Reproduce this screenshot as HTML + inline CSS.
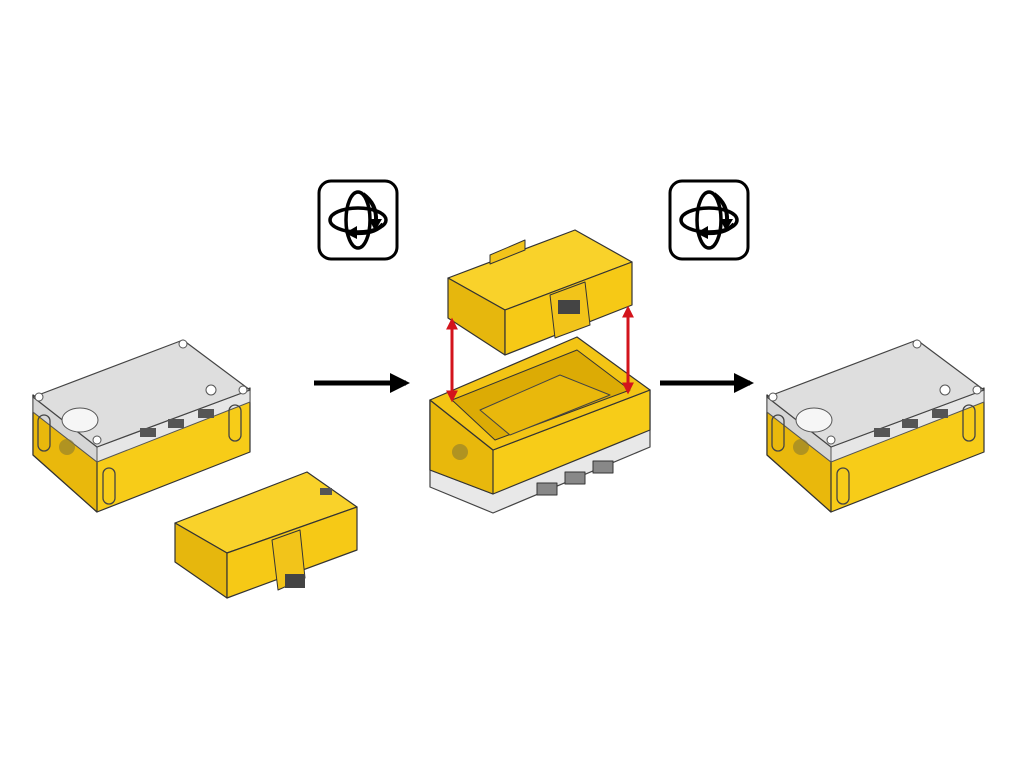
<!DOCTYPE html>
<html><head><meta charset="utf-8"><style>html,body{margin:0;padding:0;background:#fff}svg{display:block}</style></head><body>
<svg width="1024" height="768" viewBox="0 0 1024 768" xmlns="http://www.w3.org/2000/svg" stroke-linejoin="round">
<defs>
<marker id="ab" viewBox="0 0 10 10" refX="8" refY="5" markerWidth="4" markerHeight="4" orient="auto"><path d="M0,0L10,5L0,10z" fill="#000"/></marker>
<marker id="ar" viewBox="0 0 10 10" refX="8" refY="5" markerWidth="4" markerHeight="5" orient="auto-start-reverse"><path d="M0,0L10,5L0,10z" fill="#d3141c"/></marker>
<g id="rot">
<rect x="2" y="2" width="78" height="78" rx="12" fill="#fff" stroke="#000" stroke-width="3"/>
<ellipse cx="41" cy="41" rx="12" ry="28" fill="none" stroke="#000" stroke-width="3.5"/>
<ellipse cx="41" cy="41" rx="28" ry="12" fill="none" stroke="#000" stroke-width="3.5"/>
<path d="M46,15 Q60,25 59,42" fill="none" stroke="#000" stroke-width="4"/>
<path d="M52,40L65,40L58,52z" fill="#000"/>
<path d="M66,45 Q58,55 38,54" fill="none" stroke="#000" stroke-width="4"/>
<path d="M40,47L28,54L40,60z" fill="#000"/>
</g>
<g id="hub">
<!-- yellow body -->
<polygon points="0,55 64,105 217,48 217,112 64,172 0,115" fill="#f7cc18" stroke="#333" stroke-width="1.2"/>
<polygon points="0,55 64,105 64,172 0,115" fill="#e9b80c" stroke="#333" stroke-width="1.2"/>
<!-- white band -->
<polygon points="0,57 64,107 217,50 217,62 64,122 0,72" fill="#e6e6e6" stroke="#555" stroke-width="1"/>
<polygon points="0,57 64,107 64,122 0,72" fill="#d6d6d6" stroke="#555" stroke-width="1"/>
<!-- top -->
<polygon points="0,57 150,0 217,50 64,107" fill="#dedede" stroke="#444" stroke-width="1.2"/>
<ellipse cx="47" cy="80" rx="18" ry="12" fill="#f6f6f6" stroke="#555"/>
<circle cx="150" cy="4" r="4" fill="#fff" stroke="#555"/>
<circle cx="6" cy="57" r="4" fill="#fff" stroke="#555"/>
<circle cx="210" cy="50" r="4" fill="#fff" stroke="#555"/>
<circle cx="64" cy="100" r="4" fill="#fff" stroke="#555"/>
<rect x="107" y="88" width="16" height="9" fill="#555"/>
<rect x="135" y="79" width="16" height="9" fill="#555"/>
<rect x="165" y="69" width="16" height="9" fill="#555"/>
<circle cx="178" cy="50" r="5" fill="#fff" stroke="#555"/>
<!-- beams -->
<g fill="none" stroke="#444" stroke-width="1.3">
<rect x="5" y="75" width="12" height="36" rx="6"/>
<rect x="70" y="128" width="12" height="36" rx="6"/>
<rect x="196" y="65" width="12" height="36" rx="6"/>
</g>
<circle cx="34" cy="107" r="8" fill="#8a7a30" opacity=".6"/>
</g>
</defs>

<use href="#rot" x="317" y="179"/>
<use href="#rot" x="668" y="179"/>

<line x1="314" y1="383" x2="406" y2="383" stroke="#000" stroke-width="5" marker-end="url(#ab)"/>
<line x1="660" y1="383" x2="750" y2="383" stroke="#000" stroke-width="5" marker-end="url(#ab)"/>

<use href="#hub" x="33" y="340"/>
<use href="#hub" x="767" y="340"/>
<!-- right hub has slot on front: fine -->

<!-- left battery -->
<polygon points="175,523 307,472 357,507 227,553" fill="#f9d22a" stroke="#333" stroke-width="1.2"/>
<polygon points="175,523 227,553 227,598 175,562" fill="#e6b70d" stroke="#333" stroke-width="1.2"/>
<polygon points="227,553 357,507 357,550 227,598" fill="#f6c916" stroke="#333" stroke-width="1.2"/>
<polygon points="272,540 300,530 305,578 278,590" fill="#f2c41a" stroke="#333"/>
<rect x="285" y="574" width="20" height="14" fill="#444"/>
<rect x="320" y="488" width="12" height="7" fill="#555"/>

<!-- middle hub (open) -->
<polygon points="430,400 493,450 650,390 650,447 493,513 430,487" fill="#e8e8e8" stroke="#444" stroke-width="1.2"/>
<polygon points="430,400 493,450 650,390 650,430 493,494 430,470" fill="#f7cc18" stroke="#333" stroke-width="1.2"/>
<polygon points="430,400 493,450 493,494 430,470" fill="#e8b80c" stroke="#333" stroke-width="1.2"/>
<polygon points="430,400 577,337 650,390 493,450" fill="#f3c515" stroke="#333" stroke-width="1.2"/>
<polygon points="452,400 577,350 630,390 495,440" fill="#dcab05" stroke="#333" stroke-width="1"/>
<polygon points="480,410 560,375 610,395 510,435" fill="#e9b80c" stroke="#444" stroke-width="1"/>
<rect x="537" y="483" width="20" height="12" fill="#888" stroke="#333"/>
<rect x="565" y="472" width="20" height="12" fill="#888" stroke="#333"/>
<rect x="593" y="461" width="20" height="12" fill="#888" stroke="#333"/>
<circle cx="460" cy="452" r="8" fill="#8a7a30" opacity=".6"/>

<!-- middle battery -->
<polygon points="448,278 575,230 632,262 505,310" fill="#f9d22a" stroke="#333" stroke-width="1.2"/>
<polygon points="448,278 505,310 505,355 448,318" fill="#e6b70d" stroke="#333" stroke-width="1.2"/>
<polygon points="505,310 632,262 632,305 505,355" fill="#f6c916" stroke="#333" stroke-width="1.2"/>
<polygon points="550,295 585,282 590,325 555,338" fill="#f2c41a" stroke="#333"/>
<rect x="558" y="300" width="22" height="14" fill="#444"/>
<polygon points="490,255 525,240 525,250 490,264" fill="#f2c41a" stroke="#333"/>

<line x1="452" y1="320" x2="452" y2="400" stroke="#d3141c" stroke-width="3" marker-start="url(#ar)" marker-end="url(#ar)"/>
<line x1="628" y1="308" x2="628" y2="392" stroke="#d3141c" stroke-width="3" marker-start="url(#ar)" marker-end="url(#ar)"/>
</svg>
</body></html>
